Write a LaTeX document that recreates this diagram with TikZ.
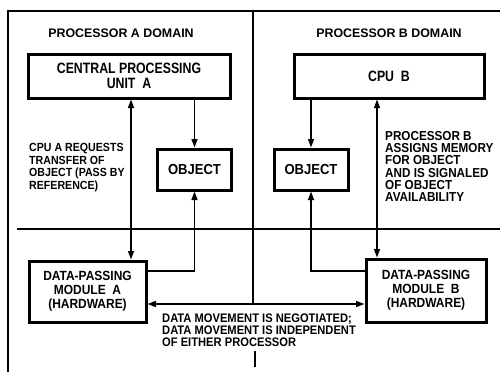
\documentclass[tikz,border=0pt]{standalone}
\usepackage{fontspec}
\setmainfont{Liberation Sans}
\newfontfamily\cfa{Liberation Sans Bold}[FakeStretch=0.9]
\newfontfamily\cfb{Liberation Sans Bold}[FakeStretch=0.82]
\usetikzlibrary{arrows.meta}
\begin{document}
\begin{tikzpicture}[x=1pt,y=-1pt,
  box/.style={draw,line width=3pt,inner sep=0pt,align=center},
  arr/.style={line width=1.4pt,-{Triangle[length=8.5pt,width=6pt]}},
  darr/.style={line width=1.4pt,{Triangle[length=8.5pt,width=6pt]}-{Triangle[length=8.5pt,width=6pt]}},
  lbl/.style={inner sep=0pt,align=left,anchor=north west},
  ttl/.style={inner sep=0pt,font=\bfseries\fontsize{12.4}{15}\selectfont},
  frame/.style={line width=2.4pt},
  divider/.style={line width=1.5pt}]
\useasboundingbox (0,0) rectangle (500,372);
% frame and dividers
\draw[frame] (8,372) -- (8,11) -- (500,11);
\draw[divider] (253,11) -- (253,304);
\draw[divider] (255,351) -- (255,367);
\draw[divider] (17,229) -- (500,229);
% titles
\node[ttl] (ta) at (121,33) {PROCESSOR A DOMAIN};
\node[ttl] (tb) at (389,33) {PROCESSOR B DOMAIN};
% boxes
\node[box,minimum width=202pt,minimum height=44pt,font=\cfb\fontsize{15}{15}\selectfont] (cpua) at (129,76) {CENTRAL PROCESSING\\UNIT\ \ A};
\node[box,minimum width=190pt,minimum height=44pt,font=\cfb\fontsize{15}{15}\selectfont] (cpub) at (389,76) {CPU\ \ B};
\node[box,minimum width=74pt,minimum height=41pt,font=\cfa\fontsize{14.5}{15}\selectfont] (obja) at (194.5,169.5) {OBJECT};
\node[box,minimum width=74pt,minimum height=41pt,font=\cfa\fontsize{14.5}{15}\selectfont] (objb) at (311,169.5) {OBJECT};
\node[box,minimum width=117pt,minimum height=61pt,font=\cfa\fontsize{13.3}{14}\selectfont] (dpma) at (87.5,291.5) {DATA-PASSING\\MODULE\ \ A\\(HARDWARE)};
\node[box,minimum width=120pt,minimum height=63pt,font=\cfa\fontsize{13.3}{14}\selectfont] (dpmb) at (426,290.5) {DATA-PASSING\\MODULE\ \ B\\(HARDWARE)};
% labels
\node[lbl,font=\cfa\fontsize{11.8}{12.5}\selectfont] (la) at (29,143.5) {CPU A REQUESTS\\TRANSFER OF\\OBJECT (PASS BY\\REFERENCE)};
\node[lbl,font=\cfa\fontsize{13}{12.3}\selectfont] (lb) at (385,131) {PROCESSOR B\\ASSIGNS MEMORY\\FOR OBJECT\\AND IS SIGNALED\\OF OBJECT\\AVAILABILITY};
\node[lbl,font=\cfa\fontsize{12.4}{12.3}\selectfont] (lc) at (162,313.5) {DATA MOVEMENT IS NEGOTIATED;\\DATA MOVEMENT IS INDEPENDENT\\OF EITHER PROCESSOR};
% connectors
\draw[darr] (dpma.north -| 131,0) -- (cpua.south -| 131,0);
\draw[arr] (obja.north |- cpua.south) -- (obja.north);
\draw[arr] ([yshift=20.5pt]dpma.east) -| (obja.south);
\draw[arr] (objb.north |- cpub.south) -- (objb.north);
\draw[arr] ([yshift=19.5pt]dpmb.west) -| (objb.south);
\draw[darr] (cpub.south -| 377,0) -- (dpmb.north -| 377,0);
\draw[darr] (dpma.east |- 0,304) -- (dpmb.west |- 0,304);
\end{tikzpicture}
\end{document}
